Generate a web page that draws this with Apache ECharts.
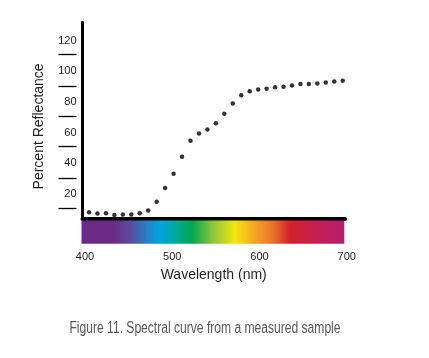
<!DOCTYPE html>
<html>
<head>
<meta charset="utf-8">
<script src="https://cdn.jsdelivr.net/npm/echarts@6/dist/echarts.min.js"></script>
<style>
html,body{margin:0;padding:0;background:#fff;}
#chart{width:429px;height:358px;}
</style>
</head>
<body>
<div id="chart"></div>
<script>
// ---- data ----
const wavelengths = [400,410,420,430,440,450,460,470,480,490,500,510,520,530,540,550,560,570,580,590,600,610,620,630,640,650,660,670,680,690,700];
const reflectance = [8.1,7.2,7.4,6.3,6.6,6.6,7.4,9.2,15.0,23.9,33.2,44.3,54.7,59.5,62.1,66.2,72.3,79.0,84.4,87.0,88.1,88.7,89.6,89.9,90.7,91.8,91.8,92.0,92.8,93.3,93.8];
const xTickLabels = [400,500,600,700];
const yTickLabels = [20,40,60,80,100,120];
const yTickMarks = [10.9,30.4,51.2,70.9,90.4,111.2];
const xTitle = 'Wavelength (nm)';
const yTitle = 'Percent Reflectance';
const caption = 'Figure 11. Spectral curve from a measured sample';

const points = wavelengths.map((w, i) => [w, reflectance[i]]);
const font = 'Liberation Sans, Arial, sans-serif';
const ink = '#231f20';

const chart = echarts.init(document.getElementById('chart'), null, {renderer: 'canvas'});
chart.setOption({
  animation: false,
  backgroundColor: '#ffffff',
  grid: [
    {left: 82.5, top: 22.3, width: 262.5, height: 196.2},
    {left: 80, top: 22.3, width: 267.4, height: 196.2}
  ],
  xAxis: [
    {gridIndex: 0, type: 'value', min: 392.3, max: 702.7,
     axisLine: {show: true, onZero: false, lineStyle: {color: '#000', width: 4}},
     axisTick: {show: false}, axisLabel: {show: false}, splitLine: {show: false}},
    {gridIndex: 1, type: 'value', min: 394.3, max: 700.8,
     axisLine: {show: false}, axisTick: {show: false}, splitLine: {show: false},
     axisLabel: {customValues: xTickLabels, margin: 33, fontFamily: font, fontSize: 11, color: ink},
     name: xTitle, nameLocation: 'middle', nameGap: 50,
     nameTextStyle: {fontFamily: font, fontSize: 14, color: ink}}
  ],
  yAxis: [
    {gridIndex: 0, type: 'value', min: 4, max: 132,
     axisLine: {show: true, onZero: false, lineStyle: {color: '#000', width: 3}},
     axisTick: {show: false}, splitLine: {show: false},
     axisLabel: {customValues: yTickLabels, margin: 6, fontFamily: font, fontSize: 11, color: ink},
     name: yTitle, nameLocation: 'middle', nameGap: 36,
     nameTextStyle: {fontFamily: font, fontSize: 14, color: ink, padding: [0, 12, 0, 0]}},
    {gridIndex: 0, type: 'value', min: 4, max: 132, position: 'left', offset: 6,
     axisLine: {show: false}, axisLabel: {show: false}, splitLine: {show: false},
     axisTick: {show: true, customValues: yTickMarks, length: 18, lineStyle: {color: '#000', width: 1.3}}},
    {gridIndex: 1, type: 'value', show: false, min: 4, max: 132}
  ],
  graphic: [{
    type: 'rect', z: 100,
    shape: {x: 81.5, y: 220.5, width: 262.8, height: 23.2},
    style: {
      fill: new echarts.graphic.LinearGradient(0, 0, 1, 0, [
        {offset: 0, color: '#6a2b86'},
        {offset: 0.12, color: '#6a2b86'},
        {offset: 0.185, color: '#5b4b9c'},
        {offset: 0.25, color: '#2b80c4'},
        {offset: 0.30, color: '#00a4e1'},
        {offset: 0.36, color: '#00a99b'},
        {offset: 0.42, color: '#00a651'},
        {offset: 0.50, color: '#8cc63f'},
        {offset: 0.584, color: '#f3e70f'},
        {offset: 0.652, color: '#f6aa22'},
        {offset: 0.73, color: '#e8722a'},
        {offset: 0.793, color: '#d2222b'},
        {offset: 0.88, color: '#c81e4c'},
        {offset: 1, color: '#b41d70'}
      ])
    }
  }, {
    type: 'text', z: 100, x: 205, y: 329, scaleX: 0.755,
    style: {
      text: caption, fill: '#58595b',
      font: '16px "Liberation Sans", Arial, sans-serif',
      align: 'center', verticalAlign: 'middle'
    }
  }],
  series: [{
    type: 'scatter', xAxisIndex: 0, yAxisIndex: 0,
    data: points, symbol: 'circle', symbolSize: 4.5,
    itemStyle: {color: '#000'}
  }]
});
</script>
</body>
</html>
